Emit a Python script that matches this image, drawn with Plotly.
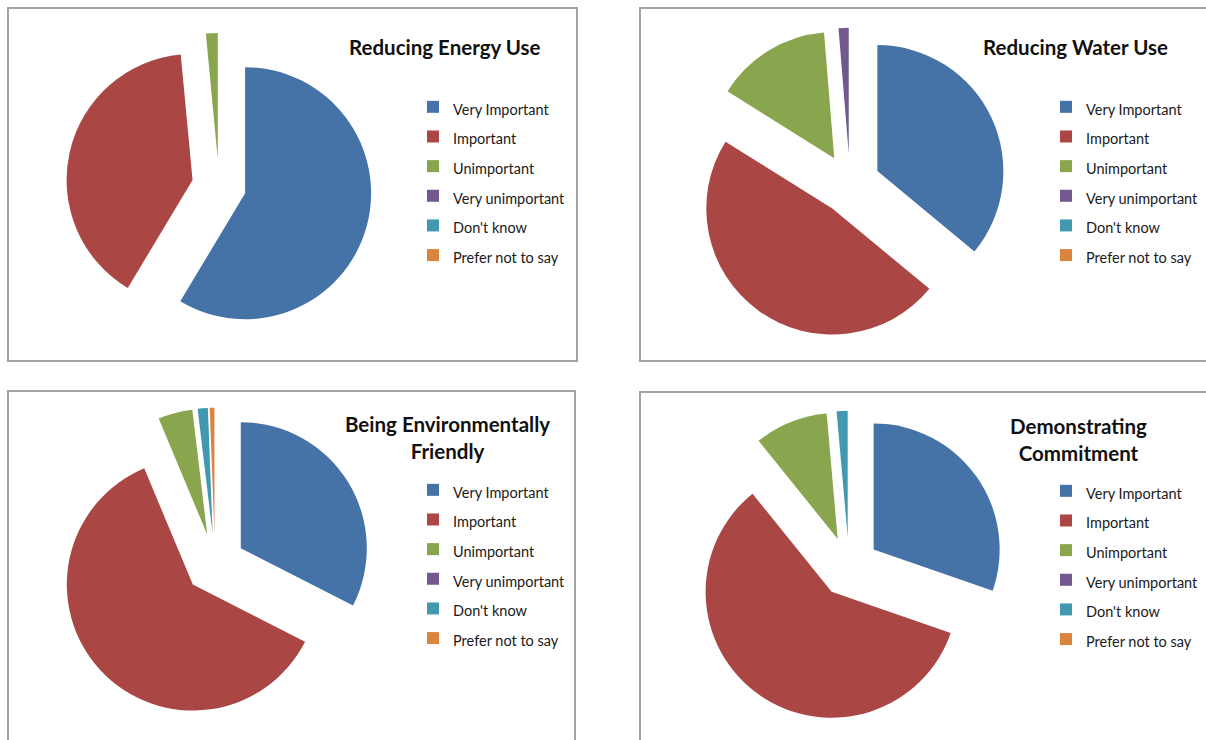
import plotly.graph_objects as go

# Response categories shared by every question
categories = ["Very Important", "Important", "Unimportant",
              "Very unimportant", "Don't know", "Prefer not to say"]

# Share of responses (%) for each question
energy_use = [58.6, 39.9, 1.5, 0.0, 0.0, 0.0]
water_use = [36.0, 47.9, 14.8, 1.3, 0.0, 0.0]
env_friendly = [32.5, 61.2, 4.4, 0.0, 1.3, 0.6]
commitment = [30.3, 58.9, 9.4, 0.0, 1.4, 0.0]

titles = ["Reducing Energy Use", "Reducing Water Use",
          "Being Environmentally<br>Friendly", "Demonstrating<br>Commitment"]

colors = ["#4572A7", "#AA4643", "#89A54E", "#71588F", "#4198AF", "#DB843D"]

W, H = 1206, 740
FONT = "Lato, Open Sans, sans-serif"
R = 126  # slice radius in px

# panel layout: pie centre (px), explode amount, title centre (px),
# legend top-left (px), frame (px)
panels = [
    dict(vals=energy_use, c=(219, 186), pull=0.215, t=(445, 47), leg=(413, 87),
         frame=(8, 8, 577, 361)),
    dict(vals=water_use, c=(850, 184), pull=0.24, t=(1075, 47), leg=(1046, 87),
         frame=(640, 8, 1215, 361)),
    dict(vals=env_friendly, c=(215, 564), pull=0.24, t=(447, 438), leg=(413, 470),
         frame=(8, 391, 575, 750)),
    dict(vals=commitment, c=(849, 567), pull=0.24, t=(1078, 439), leg=(1046, 471),
         frame=(640, 392, 1215, 750)),
]


def px_x(x):
    return x / W


def px_y(y):
    return 1 - y / H


fig = go.Figure()
layout_legends = {}
shapes = []
annotations = []

for i, p in enumerate(panels):
    cx, cy = p["c"]
    half = R * (1 + p["pull"])
    legend_name = "legend" if i == 0 else f"legend{i + 1}"
    # each pie keeps its own slice labels so every legend lists all categories
    style = "font-size:14.5px" + ";" * (i + 1)
    fig.add_trace(go.Pie(
        labels=[f'<span style="{style}">{c}</span>' for c in categories],
        values=p["vals"],
        sort=False,
        direction="clockwise",
        rotation=0,
        pull=[p["pull"]] * len(categories),
        marker=dict(colors=colors, line=dict(width=0)),
        textinfo="none",
        hoverinfo="label+percent",
        domain=dict(x=[px_x(cx - half), px_x(cx + half)],
                    y=[px_y(cy + half), px_y(cy - half)]),
        showlegend=True,
        legend=legend_name,
    ))
    lx, ly = p["leg"]
    layout_legends[legend_name] = dict(
        x=px_x(lx), y=px_y(ly), xanchor="left", yanchor="top",
        xref="paper", yref="paper",
        font=dict(family=FONT, size=20.5, color="#1a1a1a"),
        bgcolor="rgba(0,0,0,0)", itemclick=False, itemdoubleclick=False,
        itemwidth=30, traceorder="normal",
    )
    x0, y0, x1, y1 = p["frame"]
    shapes.append(dict(type="rect", xref="paper", yref="paper",
                       x0=px_x(x0), x1=px_x(x1), y0=px_y(y1), y1=px_y(y0),
                       line=dict(color="#A3A3A3", width=2), layer="below"))
    tx, ty = p["t"]
    annotations.append(dict(text=f"<b>{titles[i]}</b>", x=px_x(tx), y=px_y(ty),
                            xref="paper", yref="paper", showarrow=False,
                            xanchor="center", yanchor="middle",
                            font=dict(family=FONT, size=20.5, color="#111111")))

fig.update_layout(
    width=W, height=H,
    margin=dict(l=0, r=0, t=0, b=0, autoexpand=False),
    paper_bgcolor="white", plot_bgcolor="white",
    shapes=shapes, annotations=annotations,
    **layout_legends,
)

fig.write_html("out.html")
